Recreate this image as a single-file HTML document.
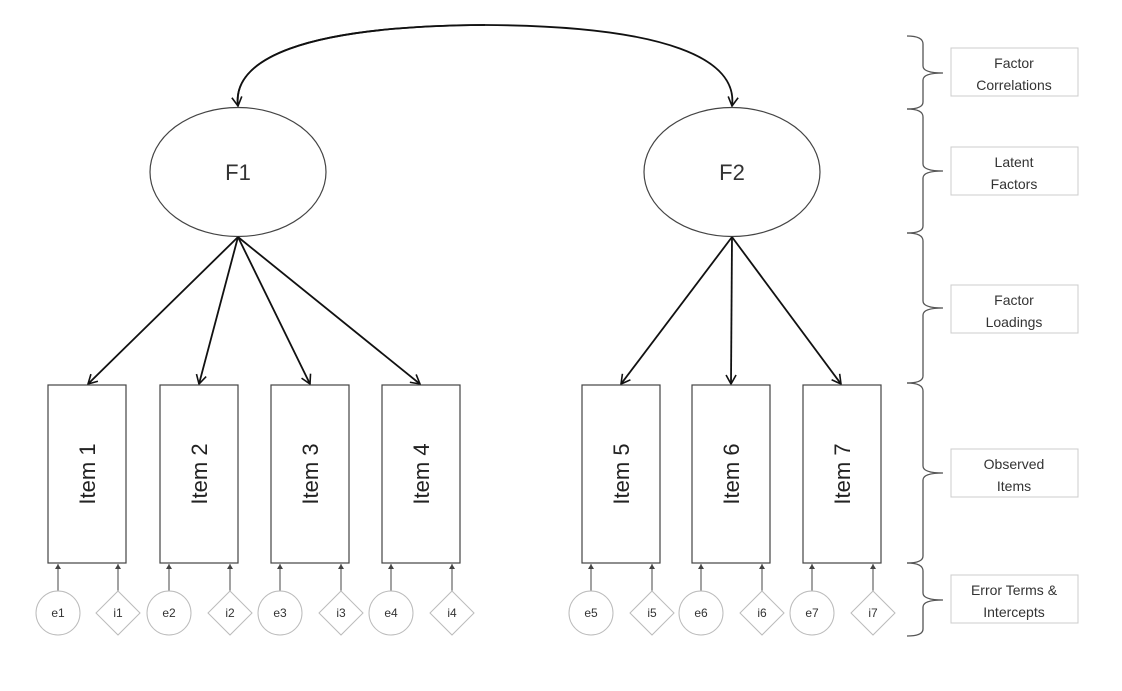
<!DOCTYPE html>
<html><head><meta charset="utf-8"><style>
body{margin:0;background:#fff;}
svg{display:block;font-family:"Liberation Sans",sans-serif;}
</style></head><body>
<svg width="1122" height="691" viewBox="0 0 1122 691" xmlns="http://www.w3.org/2000/svg">
<defs>
<marker id="a" markerWidth="12" markerHeight="12" refX="10" refY="6" orient="auto" markerUnits="userSpaceOnUse">
<path d="M1,1 L10,6 L1,11" fill="none" stroke="#111" stroke-width="1.6"/>
</marker>
<marker id="s" markerWidth="6" markerHeight="6" refX="5" refY="3" orient="auto" markerUnits="userSpaceOnUse">
<path d="M0,0 L5,3 L0,6 Z" fill="#444"/>
</marker>
</defs>
<!-- correlation curve -->
<path d="M238,106 C232,60 300,26 485,25 C670,26 738,60 732,106" fill="none" stroke="#111" stroke-width="1.8" marker-end="url(#a)"/>
<path d="M485,25 C300,26 232,60 238,106" fill="none" stroke="#111" stroke-width="1.8" marker-end="url(#a)"/>
<!-- ellipses -->
<ellipse cx="238" cy="172" rx="88" ry="64.5" fill="#fff" stroke="#444" stroke-width="1.2"/>
<ellipse cx="732" cy="172" rx="88" ry="64.5" fill="#fff" stroke="#444" stroke-width="1.2"/>
<text x="238" y="180" font-size="22" text-anchor="middle" fill="#333">F1</text>
<text x="732" y="180" font-size="22" text-anchor="middle" fill="#333">F2</text>
<!-- loadings -->
<g stroke="#111" stroke-width="1.8" fill="none">
<line x1="238" y1="237" x2="88" y2="384" marker-end="url(#a)"/>
<line x1="238" y1="237" x2="199" y2="384" marker-end="url(#a)"/>
<line x1="238" y1="237" x2="310" y2="384" marker-end="url(#a)"/>
<line x1="238" y1="237" x2="420" y2="384" marker-end="url(#a)"/>
<line x1="732" y1="237" x2="621" y2="384" marker-end="url(#a)"/>
<line x1="732" y1="237" x2="731" y2="384" marker-end="url(#a)"/>
<line x1="732" y1="237" x2="841" y2="384" marker-end="url(#a)"/>
</g>
<!-- items -->
<g fill="#fff" stroke="#444" stroke-width="1.2">
<rect x="48" y="385" width="78" height="178"/>
<rect x="160" y="385" width="78" height="178"/>
<rect x="271" y="385" width="78" height="178"/>
<rect x="382" y="385" width="78" height="178"/>
<rect x="582" y="385" width="78" height="178"/>
<rect x="692" y="385" width="78" height="178"/>
<rect x="803" y="385" width="78" height="178"/>
</g>
<g font-size="22" fill="#222" text-anchor="middle">
<text transform="translate(95,474) rotate(-90)">Item 1</text>
<text transform="translate(207,474) rotate(-90)">Item 2</text>
<text transform="translate(318,474) rotate(-90)">Item 3</text>
<text transform="translate(429,474) rotate(-90)">Item 4</text>
<text transform="translate(629,474) rotate(-90)">Item 5</text>
<text transform="translate(739,474) rotate(-90)">Item 6</text>
<text transform="translate(850,474) rotate(-90)">Item 7</text>
</g>
<!-- error terms & intercepts -->
<g id="ei">
</g>
<g stroke="#444" stroke-width="1" fill="none">
<line x1="58" y1="591" x2="58" y2="564" marker-end="url(#s)"/><line x1="118" y1="591" x2="118" y2="564" marker-end="url(#s)"/>
<line x1="169" y1="591" x2="169" y2="564" marker-end="url(#s)"/><line x1="230" y1="591" x2="230" y2="564" marker-end="url(#s)"/>
<line x1="280" y1="591" x2="280" y2="564" marker-end="url(#s)"/><line x1="341" y1="591" x2="341" y2="564" marker-end="url(#s)"/>
<line x1="391" y1="591" x2="391" y2="564" marker-end="url(#s)"/><line x1="452" y1="591" x2="452" y2="564" marker-end="url(#s)"/>
<line x1="591" y1="591" x2="591" y2="564" marker-end="url(#s)"/><line x1="652" y1="591" x2="652" y2="564" marker-end="url(#s)"/>
<line x1="701" y1="591" x2="701" y2="564" marker-end="url(#s)"/><line x1="762" y1="591" x2="762" y2="564" marker-end="url(#s)"/>
<line x1="812" y1="591" x2="812" y2="564" marker-end="url(#s)"/><line x1="873" y1="591" x2="873" y2="564" marker-end="url(#s)"/>
</g>
<g fill="#fff" stroke="#bbb" stroke-width="1">
<circle cx="58" cy="613" r="22"/><path d="M118,591 L140,613 L118,635 L96,613 Z"/>
<circle cx="169" cy="613" r="22"/><path d="M230,591 L252,613 L230,635 L208,613 Z"/>
<circle cx="280" cy="613" r="22"/><path d="M341,591 L363,613 L341,635 L319,613 Z"/>
<circle cx="391" cy="613" r="22"/><path d="M452,591 L474,613 L452,635 L430,613 Z"/>
<circle cx="591" cy="613" r="22"/><path d="M652,591 L674,613 L652,635 L630,613 Z"/>
<circle cx="701" cy="613" r="22"/><path d="M762,591 L784,613 L762,635 L740,613 Z"/>
<circle cx="812" cy="613" r="22"/><path d="M873,591 L895,613 L873,635 L851,613 Z"/>
</g>
<g font-size="12" fill="#333" text-anchor="middle">
<text x="58" y="617">e1</text><text x="118" y="617">i1</text>
<text x="169" y="617">e2</text><text x="230" y="617">i2</text>
<text x="280" y="617">e3</text><text x="341" y="617">i3</text>
<text x="391" y="617">e4</text><text x="452" y="617">i4</text>
<text x="591" y="617">e5</text><text x="652" y="617">i5</text>
<text x="701" y="617">e6</text><text x="762" y="617">i6</text>
<text x="812" y="617">e7</text><text x="873" y="617">i7</text>
</g>
<!-- braces -->
<g stroke="#555" stroke-width="1.3" fill="none">
<path d="M907,36 Q923,36 923,44 L923,66 Q923,73 943,73 M943,73 Q923,73 923,80 L923,102 Q923,109 907,109"/>
<path d="M907,109 Q923,109 923,117 L923,164 Q923,171 943,171 M943,171 Q923,171 923,178 L923,226 Q923,233 907,233"/>
<path d="M907,233 Q923,233 923,241 L923,301 Q923,308 943,308 M943,308 Q923,308 923,315 L923,376 Q923,383 907,383"/>
<path d="M907,383 Q923,383 923,391 L923,466 Q923,473 943,473 M943,473 Q923,473 923,480 L923,556 Q923,563 907,563"/>
<path d="M907,563 Q923,563 923,571 L923,593 Q923,600 943,600 M943,600 Q923,600 923,607 L923,629 Q923,636 907,636"/>
</g>
<g fill="#fff" stroke="#ccc" stroke-width="1">
<rect x="951" y="48" width="127" height="48"/>
<rect x="951" y="147" width="127" height="48"/>
<rect x="951" y="285" width="127" height="48"/>
<rect x="951" y="449" width="127" height="48"/>
<rect x="951" y="575" width="127" height="48"/>
</g>
<g font-size="14" fill="#333" text-anchor="middle">
<text x="1014" y="68">Factor</text><text x="1014" y="90">Correlations</text>
<text x="1014" y="167">Latent</text><text x="1014" y="189">Factors</text>
<text x="1014" y="305">Factor</text><text x="1014" y="327">Loadings</text>
<text x="1014" y="469">Observed</text><text x="1014" y="491">Items</text>
<text x="1014" y="595">Error Terms &amp;</text><text x="1014" y="617">Intercepts</text>
</g>
</svg>
</body></html>
